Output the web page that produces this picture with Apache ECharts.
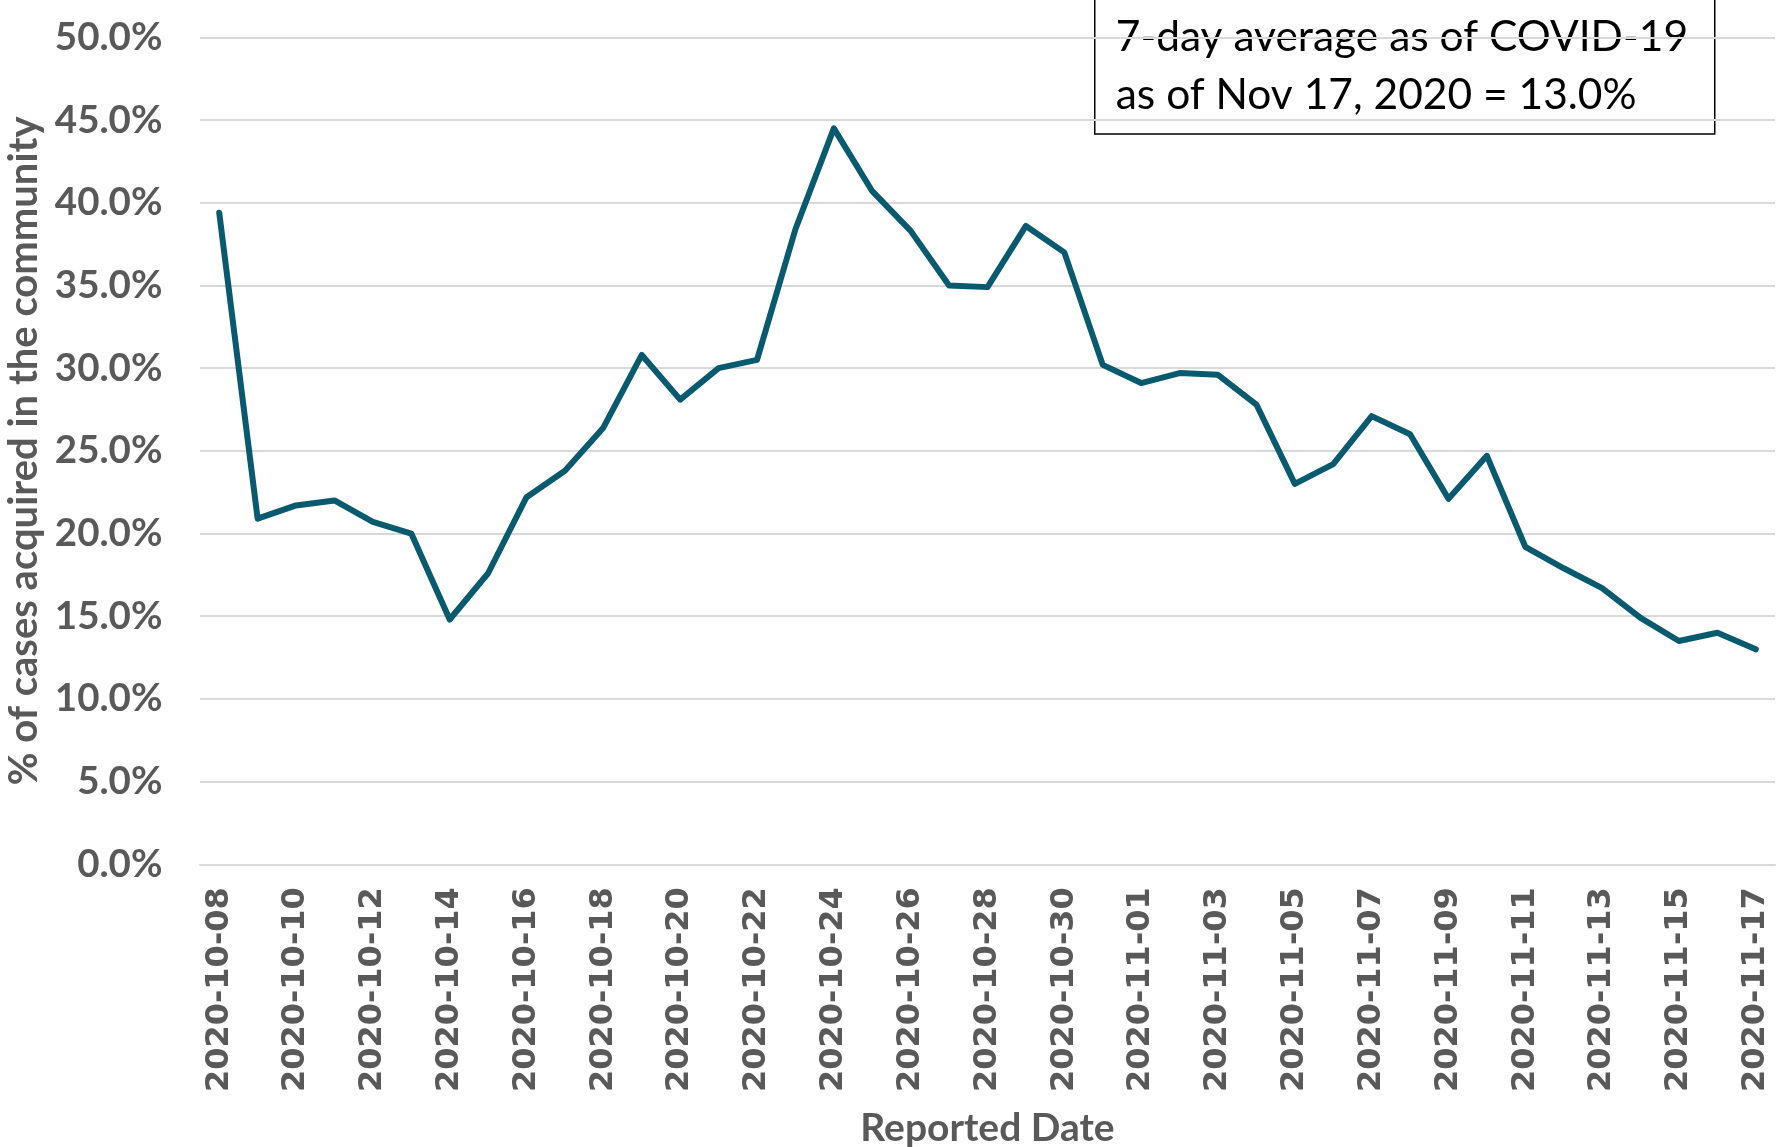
<!DOCTYPE html>
<html>
<head>
<meta charset="utf-8">
<script src="https://cdn.jsdelivr.net/npm/echarts@6/dist/echarts.min.js"></script>
<style>
html,body{margin:0;padding:0;background:#fff;}
#chart{width:1776px;height:1147px;}
</style>
</head>
<body>
<div id="chart"></div>
<script>
const dates = [
  "2020-10-08","2020-10-09","2020-10-10","2020-10-11","2020-10-12","2020-10-13","2020-10-14",
  "2020-10-15","2020-10-16","2020-10-17","2020-10-18","2020-10-19","2020-10-20","2020-10-21",
  "2020-10-22","2020-10-23","2020-10-24","2020-10-25","2020-10-26","2020-10-27","2020-10-28",
  "2020-10-29","2020-10-30","2020-10-31","2020-11-01","2020-11-02","2020-11-03","2020-11-04",
  "2020-11-05","2020-11-06","2020-11-07","2020-11-08","2020-11-09","2020-11-10","2020-11-11",
  "2020-11-12","2020-11-13","2020-11-14","2020-11-15","2020-11-16","2020-11-17"
];
const pctCommunity = [
  39.4, 20.9, 21.7, 22.0, 20.7, 20.0, 14.8,
  17.6, 22.2, 23.8, 26.4, 30.8, 28.1, 30.0,
  30.5, 38.4, 44.5, 40.7, 38.3, 35.0, 34.9,
  38.6, 37.0, 30.2, 29.1, 29.7, 29.6, 27.8,
  23.0, 24.2, 27.1, 26.0, 22.1, 24.7, 19.2,
  17.9, 16.7, 14.9, 13.5, 14.0, 13.0
];
const yTicks = { min: 0, max: 50, step: 5 };
const annotationLines = ["7-day average as of COVID-19", "as of Nov 17, 2020 = 13.0%"];
const yAxisTitle = "% of cases acquired in the community";
const xAxisTitle = "Reported Date";

const chart = echarts.init(document.getElementById('chart'), null, {renderer: 'canvas'});
const gray = '#595959';
chart.setOption({
  animation: false,
  backgroundColor: '#ffffff',
  grid: { left: 200, right: 1, top: 37.4, bottom: 282.7, containLabel: false, outerBoundsMode: 'none' },
  xAxis: {
    type: 'category',
    data: dates,
    boundaryGap: true,
    axisLine: { show: true, lineStyle: { color: '#d9d9d9', width: 2 } },
    axisTick: { show: false },
    axisLabel: {
      interval: 1,
      rotate: 90,
      margin: 23,
      color: gray,
      fontFamily: 'DejaVu Sans',
      fontWeight: 'bold',
      fontSize: 32
    },
    name: xAxisTitle,
    nameLocation: 'middle',
    nameGap: 245,
    nameTextStyle: { color: gray, fontFamily: 'Lato', fontWeight: 'bold', fontSize: 39 }
  },
  yAxis: {
    type: 'value',
    min: yTicks.min,
    max: yTicks.max,
    interval: yTicks.step,
    axisLine: { show: false },
    axisTick: { show: false },
    splitLine: { show: true, lineStyle: { color: '#d9d9d9', width: 2 } },
    axisLabel: {
      margin: 37.5,
      color: gray,
      fontFamily: 'Lato',
      fontWeight: 'bold',
      fontSize: 38.5,
      formatter: v => v.toFixed(1) + '%'
    },
    name: yAxisTitle,
    nameLocation: 'middle',
    nameGap: 151,
    nameTextStyle: { color: gray, fontFamily: 'Lato', fontWeight: 'bold', fontSize: 40 }
  },
  series: [{
    type: 'line',
    data: pctCommunity,
    showSymbol: false,
    symbol: 'none',
    lineStyle: { color: '#0a5a6f', width: 6, join: 'round', cap: 'round' },
    z: 5
  }],
  graphic: [{
    type: 'group',
    left: 1094,
    top: -2,
    z: 10,
    children: [
      {
        type: 'rect',
        shape: { x: 0, y: 0, width: 620, height: 135.3 },
        style: { fill: 'rgba(0,0,0,0)', stroke: '#000000', lineWidth: 1.5 }
      },
      {
        type: 'text',
        x: 21,
        y: 39,
        style: {
          text: annotationLines[0],
          fill: '#000000',
          font: '42.5px Lato',
          textVerticalAlign: 'middle'
        }
      },
      {
        type: 'text',
        x: 21,
        y: 96.5,
        style: {
          text: annotationLines[1],
          fill: '#000000',
          font: '42.5px Lato',
          textVerticalAlign: 'middle'
        }
      }
    ]
  }]
});
</script>
</body>
</html>
